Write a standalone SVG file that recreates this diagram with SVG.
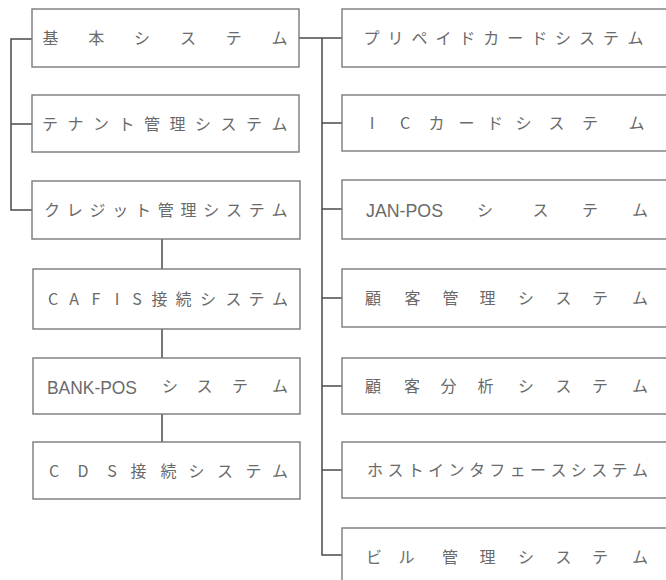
<svg xmlns="http://www.w3.org/2000/svg" width="666" height="580" viewBox="0 0 666 580">
<style>
.box{fill:#fff;stroke:#7a7a7a;stroke-width:1.4}
.t{font-family:"Noto Sans CJK JP","Noto Sans",sans-serif;font-size:16px;fill:#6a6a6a;text-anchor:middle}
.lat{font-family:"Liberation Sans","Noto Sans",sans-serif;font-size:17.5px;fill:#6a6a6a}
.c{fill:none;stroke:#4a4a4a;stroke-width:1.5}
</style>
<rect width="666" height="580" fill="#fff"/>
<g id="connectors" class="c">
<path d="M32 39 H11 V210 H32"/>
<path d="M11 124 H32"/>
<path d="M162 239 V269"/>
<path d="M162 329 V358"/>
<path d="M162 414 V442"/>
<path d="M299 38 H342"/>
<path d="M322 38 V555 H342"/>
<path d="M322 123 H342"/>
<path d="M322 209 H342"/>
<path d="M322 298 H342"/>
<path d="M322 386 H342"/>
<path d="M322 470 H342"/>
</g>
<g id="kihon">
<rect class="box" x="32" y="9" width="267" height="58"/>
<text class="t" x="50.5 96.3 142.1 187.9 233.7 279.5" y="44">基本システム</text>
</g>
<g id="tenant">
<rect class="box" x="32" y="95" width="267" height="57"/>
<text class="t" x="50 75.5 101 126.5 152 177.5 203 228.5 254 279.5" y="129.5">テナント管理システム</text>
</g>
<g id="credit">
<rect class="box" x="32" y="181" width="268" height="58"/>
<text class="t" x="52 74.75 97.5 120.25 143 165.75 188.5 211.25 234 256.75 279.5" y="216">クレジット管理システム</text>
</g>
<g id="cafis">
<rect class="box" x="33" y="269" width="267" height="60"/>
<text class="t" x="53 74 96 117 137 159.5 183.5 208 233.5 256.5 280" y="305">CAFIS接続システム</text>
</g>
<g id="bankpos">
<rect class="box" x="33" y="358" width="267" height="56"/>
<text class="lat" x="47" y="393.5" textLength="90" lengthAdjust="spacingAndGlyphs">BANK-POS</text>
<text class="t" x="170 204.5 240 280" y="392">システム</text>
</g>
<g id="cds">
<rect class="box" x="33" y="442" width="267" height="57"/>
<text class="t" x="54 83 112 138.5 168.5 196.5 225 253.5 280" y="476.5">CDS接続システム</text>
</g>
<g id="prepaid">
<rect class="box" x="342" y="9" width="340" height="58"/>
<text class="t" x="371.5 395.5 419.4 443.4 467.3 491.3 515.2 539.2 563.1 587.1 611 635.5" y="44">プリペイドカードシステム</text>
</g>
<g id="iccard">
<rect class="box" x="342" y="95" width="340" height="56"/>
<text class="t" x="372 405 436.5 466.5 495 523.5 556.5 590 636.5" y="129">ICカードシステム</text>
</g>
<g id="janpos">
<rect class="box" x="342" y="180" width="340" height="59"/>
<text class="lat" x="366" y="216.5" textLength="77" lengthAdjust="spacingAndGlyphs">JAN-POS</text>
<text class="t" x="485 540.5 590 640" y="215.5">システム</text>
</g>
<g id="kokyaku-kanri">
<rect class="box" x="342" y="269" width="340" height="58"/>
<text class="t" x="373 412.5 450.5 487.5 526 563.5 600 640" y="304">顧客管理システム</text>
</g>
<g id="kokyaku-bunseki">
<rect class="box" x="342" y="358" width="340" height="56"/>
<text class="t" x="373 412 448.5 485.5 526 563.5 600 640" y="392">顧客分析システム</text>
</g>
<g id="host">
<rect class="box" x="342" y="442" width="340" height="56"/>
<text class="t" x="375 395.4 415.8 436.1 456.5 476.9 497.3 517.7 538.1 558.5 578.8 599.2 619.6 640" y="476">ホストインタフェースシステム</text>
</g>
<g id="building">
<rect class="box" x="342" y="528" width="340" height="60"/>
<text class="t" x="374 406.5 450 487.5 526 563.5 600 640" y="563">ビル管理システム</text>
</g>
</svg>
